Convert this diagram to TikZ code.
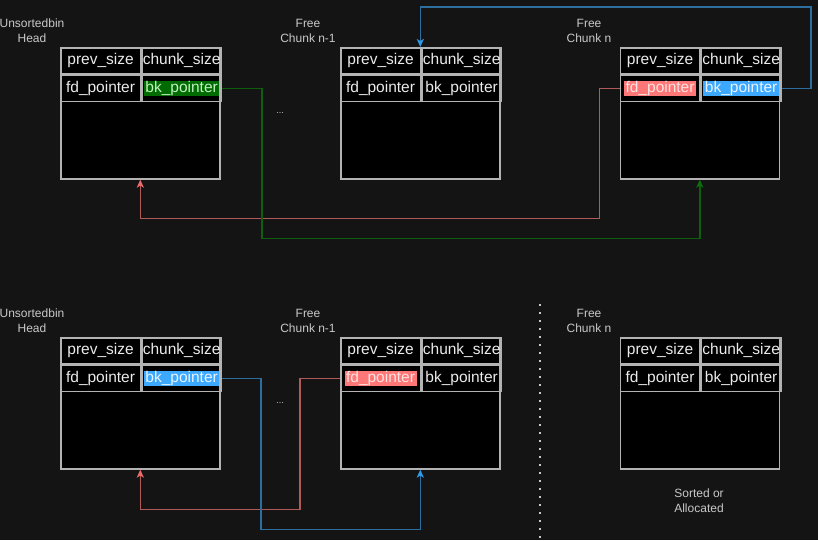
\documentclass[tikz,border=0pt]{standalone}
\usepackage{fontspec}
\setmainfont{Liberation Sans}
\usetikzlibrary{positioning,calc,arrows.meta}

\definecolor{bgcol}{HTML}{141414}
\definecolor{boxline}{HTML}{B3B3B3}
\definecolor{celltext}{HTML}{EBEBEB}
\definecolor{captext}{HTML}{C8C8C8}
\definecolor{redline}{HTML}{B05A5A}
\definecolor{redhead}{HTML}{EA6B6B}
\definecolor{redfill}{HTML}{FF7777}
\definecolor{redtext}{HTML}{FFE2E2}
\definecolor{blueline}{HTML}{2E6E9E}
\definecolor{bluehead}{HTML}{2F9AE6}
\definecolor{bluefill}{HTML}{3DA8FF}
\definecolor{bluetext}{HTML}{E8F4FF}
\definecolor{greenline}{HTML}{0D5E0D}
\definecolor{greenhead}{HTML}{0B700B}
\definecolor{greenfill}{HTML}{006B00}
\definecolor{greentext}{HTML}{BFF0BF}
\setlength{\fboxsep}{0pt}

\begin{document}
\begin{tikzpicture}[
    x=1pt, y=-1pt,
    chunk/.style={
        rectangle, draw=boxline, fill=black, line width=1.6pt,
        minimum width=159pt, minimum height=131pt, inner sep=0pt
    },
    cell/.style={
        rectangle, draw=boxline, line width=1.6pt, inner sep=0pt,
        minimum width=79.5pt, minimum height=26pt,
        text=celltext, font=\fontsize{15.5}{18}\selectfont
    },
    caption/.style={
        align=center, text=captext, font=\fontsize{12}{15}\selectfont
    },
    link/.style={
        line width=1.6pt,
        -{Stealth[length=8pt,width=7pt,inset=2pt,color=#1]}
    }
]
    \fill [bgcol] (0,0) rectangle (818,540);
    \useasboundingbox (0,0) rectangle (818,540);

    \foreach \n/\x/\y/\fdb/\fdt/\bkb/\bkt in {
        ha/60/47/black/celltext/greenfill/greentext,
        fa/340/47/black/celltext/black/celltext,
        na/619.5/47/redfill/redtext/bluefill/bluetext,
        hb/60/337/black/celltext/bluefill/bluetext,
        fb/340/337/redfill/redtext/black/celltext,
        nb/619.5/337/black/celltext/black/celltext}
    {
        \node (\n) [chunk, anchor=north west] at (\x,\y) {};
        \node (\n-ps) [cell, anchor=north west] at (\n.north west) {prev\_size};
        \node (\n-cs) [cell, right=0pt of \n-ps] {chunk\_size};
        \node (\n-fd) [cell, below=0pt of \n-ps] {\colorbox{\fdb}{\kern1.5pt\textcolor{\fdt}{fd\_pointer}\kern1.5pt}};
        \node (\n-bk) [cell, right=0pt of \n-fd] {\colorbox{\bkb}{\kern1.5pt\textcolor{\bkt}{bk\_pointer}\kern1.5pt}};
    }

    \node (lha) [caption] at (32,30.5) {Unsortedbin\\Head};
    \node (lfa) [caption] at (308,30.5) {Free\\Chunk n-1};
    \node (lna) [caption] at (589,30.5) {Free\\Chunk n};
    \node (lhb) [caption] at (32,320.5) {Unsortedbin\\Head};
    \node (lfb) [caption] at (308,320.5) {Free\\Chunk n-1};
    \node (lnb) [caption] at (589,320.5) {Free\\Chunk n};
    \node (snb) [caption] at (699,500.5) {Sorted or\\Allocated};

    \node (dta) [caption, font=\fontsize{9}{11}\selectfont] at (280,113) {...};
    \node (dtb) [caption, font=\fontsize{9}{11}\selectfont] at (280,403) {...};

    \draw [captext, line width=1.8pt, dash pattern=on 1.8pt off 6.2pt] (540,304) -- (540,540);

    % before: unsortedbin holds chunk n-1 ... chunk n
    \draw [link=redhead, redline] (na-fd.west) -- ++(-20,0) |- ([yshift=-39pt]ha.south) -- (ha.south);
    \draw [link=greenhead, greenline] (ha-bk.east) -- ++(40,0) |- ([yshift=-59pt]na.south) -- (na.south);
    \draw [link=bluehead, blueline] (na-bk.east) -- ++(29,0) |- ([yshift=40pt]fa.north) -- (fa.north);

    % after: chunk n taken out
    \draw [link=redhead, redline] (fb-fd.west) -- ++(-40,0) |- ([yshift=-40pt]hb.south) -- (hb.south);
    \draw [link=bluehead, blueline] (hb-bk.east) -- ++(39,0) |- ([yshift=-60pt]fb.south) -- (fb.south);
\end{tikzpicture}
\end{document}
